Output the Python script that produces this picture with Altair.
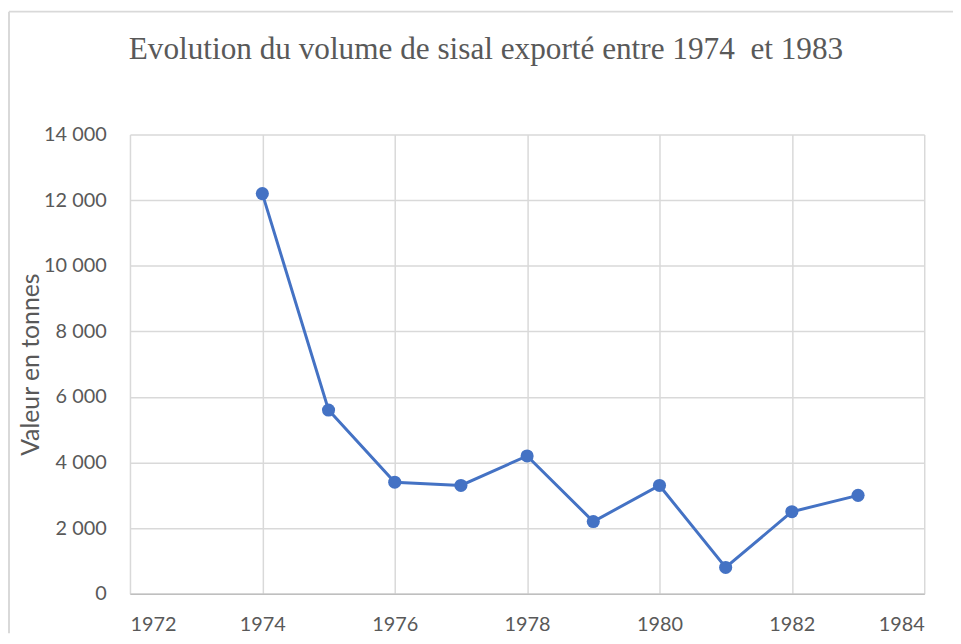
import altair as alt
import pandas as pd

years = [1974, 1975, 1976, 1977, 1978, 1979, 1980, 1981, 1982, 1983]
volumes = [12200, 5600, 3400, 3300, 4200, 2200, 3300, 800, 2500, 3000]
x_ticks = [1972, 1974, 1976, 1978, 1980, 1982, 1984]
y_ticks = [0, 2000, 4000, 6000, 8000, 10000, 12000, 14000]

title_text = "Evolution du volume de sisal exporté entre 1974\u00a0 et 1983"
y_title = "Valeur en tonnes"

df = pd.DataFrame({"annee": years, "volume": volumes})

W, H = 801, 463
TXT = "#595959"
BLUE = "#4472C4"

base = alt.Chart(df).encode(
    x=alt.X(
        "annee:Q",
        scale=alt.Scale(domain=[1972, 1984], nice=False, zero=False),
        axis=alt.Axis(
            values=x_ticks, format="d", title=None, ticks=False,
            labelPadding=21, labelFont="Lato", labelFontSize=20, labelColor=TXT,
            grid=True, gridColor="#d9d9d9", gridWidth=1.5,
            domainColor="#bfbfbf", domainWidth=1.5,
        ),
    ),
    y=alt.Y(
        "volume:Q",
        scale=alt.Scale(domain=[0, 14000], nice=False),
        axis=alt.Axis(
            values=y_ticks, title=y_title, ticks=False, domain=False,
            labelExpr="replace(format(datum.value, ','), ',', ' ')",
            labelPadding=24, labelFont="Lato", labelFontSize=20, labelColor=TXT,
            grid=True, gridColor="#d9d9d9", gridWidth=1.5,
            titleFont="Lato", titleFontSize=25, titleColor=TXT, titleFontWeight="normal",
            titleX=-100, titleY=H / 2, titleAngle=-90, titleAlign="center",
            titleBaseline="middle",
        ),
    ),
)

line = base.mark_line(color=BLUE, strokeWidth=3)
points = base.mark_point(filled=True, color=BLUE, size=175, opacity=1)

one = alt.Data(values=[{"t": title_text}])

title = alt.Chart(one).mark_text(
    font="Liberation Serif", fontSize=31.5, color=TXT, align="center",
    baseline="alphabetic",
).encode(text="t:N", x=alt.value(359), y=alt.value(-76))

border = alt.Chart(one).mark_rule(
    color="#d9d9d9", strokeWidth=2
).encode(x=alt.value(-122), y=alt.value(-124), y2=alt.value(H + 40))
border_top = alt.Chart(one).mark_rule(
    color="#d9d9d9", strokeWidth=2
).encode(x=alt.value(-122), x2=alt.value(W + 30), y=alt.value(-124))

chart = alt.layer(border, border_top, title, line, points).properties(
    width=W,
    height=H,
    autosize=alt.AutoSizeParams(type="none"),
    padding={"left": 123, "top": 125, "right": 29, "bottom": 40},
).configure_view(stroke=None)

chart.save("out.html", embed_options={"renderer": "svg", "actions": False})
